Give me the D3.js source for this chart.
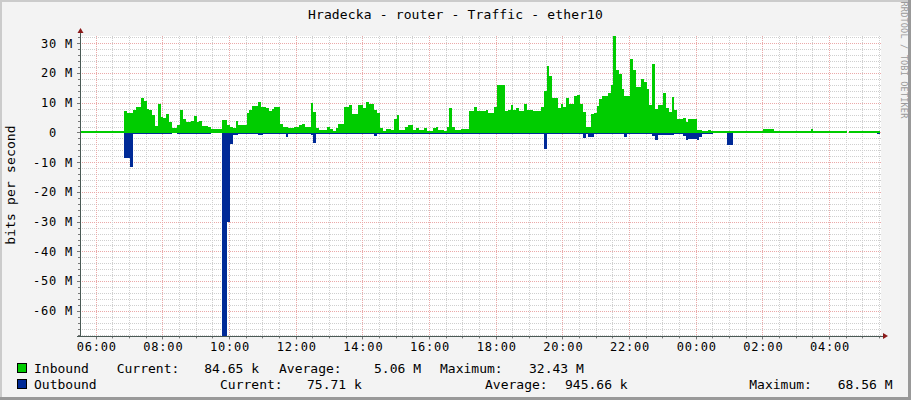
<!DOCTYPE html>
<html><head><meta charset="utf-8">
<script src="https://cdn.jsdelivr.net/npm/d3@7"></script>
<style>
body{margin:0;background:#f3f3f3}
svg{display:block}
text{font-family:"DejaVu Sans Mono",monospace;fill:#000;white-space:pre}
</style>
</head><body>
<svg id="c" width="911" height="400"></svg>
<script>
// ---------------- data ----------------
const chartTitle = "Hradecka - router - Traffic - ether10";
const yAxisTitle = "bits per second";
const credit = "RRDTOOL / TOBI OETIKER";
const startTime = new Date(2024, 0, 1, 5, 31, 44);
const stepMinutes = 5;
// Mbit/s, one value per 5-minute step
const inbound = [
0.4,0.4,0.5,0.5,0.5,0.5,0.5,0.5,0.5,0.5,0.4,0.2,0.2,0.2,0.5,0.5,
7.3,6.4,6.4,7.6,8.5,8.5,11.5,10.6,7.9,7.6,5.9,2.1,9.5,5.2,4.9,6.3,
3.5,1.5,1.5,2.6,7.7,4.4,3.4,3.4,3.7,5.6,3.5,4.0,2.1,2.1,1.8,1.2,
1.1,1.1,1.1,4.3,4.3,2.6,1.9,1.5,3.7,2.6,2.6,2.6,6.6,7.6,8.8,8.8,
10.2,8.4,8.4,8.2,7.3,8.0,8.4,8.4,3.0,1.9,1.9,1.5,1.5,2.0,1.8,2.6,
3.0,1.9,1.9,9.8,7.0,1.5,0.7,0.7,0.7,1.9,1.2,0.4,1.5,3.0,3.0,8.6,
8.4,9.1,6.1,6.1,9.1,9.1,8.2,10.4,9.5,9.5,7.6,6.5,1.5,0.4,1.1,1.1,
0.9,4.4,5.8,0.8,0.8,1.8,2.6,2.6,0.8,1.5,0.9,0.9,1.5,0.4,0.2,1.5,
2.0,0.7,0.7,0.3,2.0,8.2,1.8,0.7,0.7,1.1,1.1,1.1,7.3,7.3,8.5,7.3,
7.3,7.3,7.6,6.5,6.5,8.4,15.8,15.8,16.0,7.2,7.6,9.1,7.6,8.2,7.2,7.2,
9.5,7.6,7.6,7.2,7.2,7.2,8.4,14.0,22.2,18.9,11.6,11.6,8.2,9.5,8.4,11.6,
9.5,9.5,12.1,12.5,9.5,7.0,2.0,2.0,6.1,6.5,8.8,11.4,12.1,12.1,13.1,16.0,
32.43,21.0,19.6,14.6,12.4,12.4,24.6,21.0,15.2,15.2,17.9,17.1,14.5,9.3,22.9,7.9,
9.1,9.1,13.2,8.2,7.0,11.8,7.6,4.6,4.6,4.8,3.5,4.6,4.6,4.6,0.7,0.7,
0.2,0.2,0.7,0.2,0.1,0.1,0.1,0.1,0.1,0.1,0.1,0.1,0.6,0.1,0.1,0.1,
0.1,0.1,0.1,0.1,0.1,0.1,1.0,1.0,1.3,1.3,0.1,0.1,0.1,0.1,0.1,0.1,
0.1,0.1,0.1,0.1,0.1,0.1,0.1,1.0,0.2,0.6,0.2,0.2,0.2,0.2,0.2,0.2,
0.2,0.2,0.2,0.2,null,0.6,0.6,0.4,0.1,0.1,0.1,0.1,0.1,0.1,0.1,0.085
];
const outbound = [
0,0,0,0,0,0,0,0,0,0,0,0,0,0,0,0,
-8.6,-8.6,-11.7,-0.2,-0.2,-0.2,-0.2,-0.2,-0.2,-0.2,-0.2,-0.2,-0.2,-0.2,-0.2,-0.2,
-0.2,0,0,-0.2,-0.2,-0.2,-0.2,-0.2,-0.2,-0.2,-0.2,-0.2,-0.2,-0.2,-0.2,0,
0,0,0,-68.56,-68.56,-30,-3.9,-0.8,-0.8,-0.2,-0.2,-0.2,-0.2,-0.2,-0.2,-0.2,
-0.7,-0.7,-0.2,-0.2,-0.2,-0.2,-0.2,-0.2,-0.2,-0.2,-1.4,-0.3,-0.2,-0.2,-0.2,-0.2,
-0.2,-0.2,-0.2,-1.0,-3.4,-0.2,-0.2,-0.2,-0.2,-0.2,-0.2,-0.2,-0.2,-0.2,-0.2,-0.2,
-0.2,-0.2,-0.2,-0.2,-0.2,-0.2,-0.2,-0.2,-0.2,-0.2,-1.3,-0.1,-0.1,-0.1,-0.1,-0.1,
-0.1,-0.3,-0.3,-0.1,-0.1,-0.1,-0.1,-0.1,-0.1,-0.1,-0.1,-0.1,-0.1,-0.1,-0.1,-0.1,
-0.1,-0.1,-0.1,-0.1,-0.1,-0.1,-0.1,-0.1,-0.1,-0.1,-0.1,-0.1,-0.1,-0.1,-0.1,-0.1,
-0.1,-0.1,-0.1,-0.1,-0.1,-0.1,-0.5,-0.5,-0.5,-0.2,-0.2,-0.2,-0.2,-0.2,-0.2,-0.2,
-0.2,-0.2,-0.2,-0.2,-0.2,-0.2,-0.2,-5.5,-0.5,-0.5,-0.5,-0.2,-0.2,-0.2,-0.2,-0.5,
-0.5,-0.2,-0.2,-0.2,-0.2,-2.0,-0.2,-1.6,-1.6,-0.3,-0.3,-0.3,-0.3,-0.3,-0.6,-0.6,
-0.6,-0.3,-0.3,-0.3,-1.5,-0.6,-0.6,-0.6,-0.6,-0.5,-0.5,-0.5,-0.5,-0.5,-1.3,-2.4,
-0.8,-0.8,-0.8,-0.8,-0.8,-0.9,-0.6,-0.6,-0.6,-1.3,-2.4,-2.2,-2.2,-2.2,-2.4,-1.5,
-0.3,-0.3,-0.3,-0.3,0,0,0,0,0,-4.1,-4.1,0,0,0,0,0,
0,0,0,0,0,0,0,0,0,0,0,0,0,0,0,0,
0,0,0,0,0,0,0,0,0,0,0,0,0,0,0,0,
0,0,0,0,null,0,0,0,0,0,0,0,0,0,0,-0.076
];
const yDomain = [-68.56, 32.43];
const yTickValues = [30,20,10,0,-10,-20,-30,-40,-50,-60];
const seriesNames = ["Inbound", "Outbound"];
const seriesColors = ["#00CC00", "#002A97"];
const statLabels = ["Current:", "Average:", "Maximum:"];
const inboundStats = ["84.65 k", "5.06 M", "32.43 M"];
const outboundStats = ["75.71 k", "945.66 k", "68.56 M"];

// ---------------- drawing ----------------
const W = 911, H = 400;
const P = {l: 80, r: 880, t: 36, b: 336.4};
const svg = d3.select("#c");

// background + frame
svg.append("rect").attr("width", W).attr("height", H).attr("fill", "#f3f3f3");
svg.append("rect").attr("x",0).attr("y",0).attr("width",W).attr("height",2).attr("fill","#cbcbcb");
svg.append("rect").attr("x",0).attr("y",0).attr("width",2).attr("height",H).attr("fill","#cbcbcb");
svg.append("rect").attr("x",0).attr("y",H-3).attr("width",W).attr("height",3).attr("fill","#999");
svg.append("rect").attr("x",W-3).attr("y",0).attr("width",3).attr("height",H).attr("fill","#999");

const endTime = new Date(+startTime + inbound.length * stepMinutes * 60000);
const x = d3.scaleTime().domain([startTime, endTime]).range([P.l, P.r]);
const y = d3.scaleLinear().domain(yDomain).range([P.b, P.t]);

svg.append("rect").attr("x", P.l).attr("y", P.t).attr("width", P.r - P.l + 1).attr("height", P.b - P.t).attr("fill", "#fff");

const g = svg.append("g");
const crisp = v => Math.round(v) + 0.5;

// horizontal grid
const minorY = d3.range(-68, 33, 2);
minorY.forEach(v => {
  const yy = crisp(y(v));
  const major = v % 10 === 0;
  g.append("line").attr("x1", P.l).attr("x2", P.r + 1).attr("y1", yy).attr("y2", yy)
    .attr("stroke", major ? "#eba9a9" : "#cfcfcf").attr("stroke-dasharray", "1,1");
  g.append("line").attr("x1", P.l - (major ? 3 : 2)).attr("x2", P.l).attr("y1", yy).attr("y2", yy)
    .attr("stroke", "#777");
});
// vertical grid
const minorX = d3.timeMinute.every(30).range(startTime, endTime);
minorX.forEach(t => {
  const xx = crisp(x(t));
  const major = t.getMinutes() === 0 && t.getHours() % 2 === 0;
  g.append("line").attr("y1", P.t).attr("y2", P.b).attr("x1", xx).attr("x2", xx)
    .attr("stroke", major ? "#eba9a9" : "#cfcfcf").attr("stroke-dasharray", "1,1");
  g.append("line").attr("y1", P.b).attr("y2", P.b + (major ? 3 : 2)).attr("x1", xx).attr("x2", xx)
    .attr("stroke", "#777");
});

// series as step areas
const y0 = y(0);
function stepPoints(vals) {
  const pts = [];
  vals.forEach((v, i) => {
    const t0 = new Date(+startTime + i * stepMinutes * 60000);
    const t1 = new Date(+startTime + (i + 1) * stepMinutes * 60000);
    if (v == null) { pts.push({t: t0, v: null}); return; }
    pts.push({t: t0, v}); pts.push({t: t1, v});
  });
  return pts;
}
const areaIn = d3.area().defined(d => d.v != null).x(d => x(d.t))
  .y0(y0 + 0.5).y1(d => Math.min(y(d.v), y0 - 1.5));
const areaOut = d3.area().defined(d => d.v != null).x(d => x(d.t))
  .y0(y0 + 0.5).y1(d => d.v < 0 ? Math.max(y(d.v), y0 + 1.8) : y0 + 0.5);
svg.append("path").datum(stepPoints(inbound)).attr("d", areaIn).attr("fill", seriesColors[0])
  .attr("shape-rendering", "crispEdges");
svg.append("path").datum(stepPoints(outbound)).attr("d", areaOut).attr("fill", seriesColors[1])
  .attr("shape-rendering", "crispEdges");

// axes
const axisColor = "#4a5a55";
svg.append("line").attr("x1", P.l + 0.5).attr("x2", P.l + 0.5).attr("y1", P.b).attr("y2", 31).attr("stroke", axisColor);
svg.append("line").attr("x1", P.l - 3).attr("x2", 884).attr("y1", crisp(P.b - 0.5)).attr("y2", crisp(P.b - 0.5)).attr("stroke", axisColor);
svg.append("path").attr("d", `M${P.l - 2.5},33 L${P.l + 3.5},33 L${P.l + 0.5},28 Z`).attr("fill", "#8b1a1a");
svg.append("path").attr("d", `M883,${P.b - 3.5} L883,${P.b + 2.5} L888,${P.b - 0.5} Z`).attr("fill", "#8b1a1a");

// y tick labels
yTickValues.forEach(v => {
  svg.append("text").attr("x", 73).attr("y", y(v) + 4.3).attr("text-anchor", "end")
    .attr("font-size", 12).attr("letter-spacing", 0.8).attr("xml:space", "preserve")
    .text(v === 0 ? "0  " : v + " M");
});
// x tick labels
d3.timeHour.every(2).range(startTime, endTime).forEach(t => {
  svg.append("text").attr("x", x(t) + 1).attr("y", 351).attr("text-anchor", "middle")
    .attr("font-size", 12).attr("letter-spacing", 0.8).text(d3.timeFormat("%H:%M")(t));
});

// titles
svg.append("text").attr("x", 455.5).attr("y", 19).attr("text-anchor", "middle")
  .attr("font-size", 13).attr("letter-spacing", 0.15).text(chartTitle);
svg.append("text").attr("transform", "translate(15,185) rotate(-90)").attr("text-anchor", "middle")
  .attr("font-size", 13).attr("letter-spacing", 0.15).text(yAxisTitle);
svg.append("text").attr("transform", "translate(900.5,60) rotate(90)").attr("text-anchor", "middle")
  .attr("font-size", 8.5).attr("letter-spacing", 0.2).style("fill", "#9a9a9a").text(credit);

// legend
const legendRowsY = [373, 389];
const statX = [[116.7, 204.3, 279, 374, 440, 529], [220, 307, 485, 565, 749.3, 837.7]];
[inboundStats, outboundStats].forEach((stats, r) => {
  const ly = legendRowsY[r];
  svg.append("rect").attr("x", 17.5).attr("y", ly - 9.5).attr("width", 9).attr("height", 9)
    .attr("fill", seriesColors[r]).attr("stroke", "#000").attr("stroke-width", 1);
  svg.append("text").attr("x", 34).attr("y", ly).attr("font-size", 13).text(seriesNames[r]);
  stats.forEach((s, k) => {
    svg.append("text").attr("x", statX[r][2 * k]).attr("y", ly).attr("font-size", 13).text(statLabels[k]);
    svg.append("text").attr("x", statX[r][2 * k + 1]).attr("y", ly).attr("font-size", 13).text(s);
  });
});
</script>
</body></html>
